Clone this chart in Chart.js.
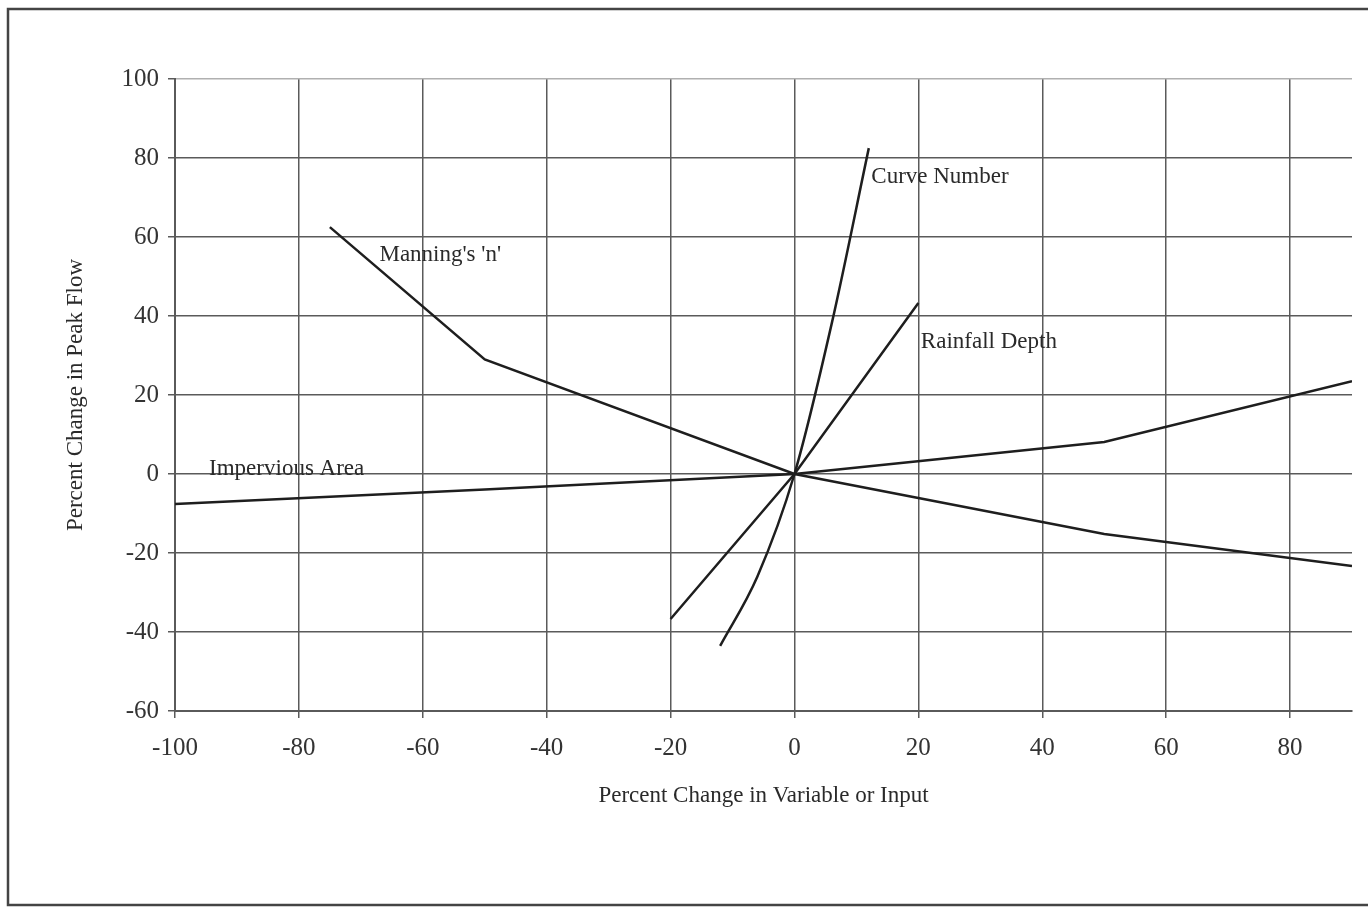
<!DOCTYPE html>
<html>
<head>
<meta charset="utf-8">
<script src="https://cdn.jsdelivr.net/npm/chart.js@4.4.0/dist/chart.umd.min.js"></script>
<style>
  html, body { margin: 0; padding: 0; background: #fff; }
  #graphique { display: block; }
</style>
</head>
<body>
<canvas id="graphique" width="1368" height="907"></canvas>
<script>
// Données (pourcentages)
const manningX = [-75, -50, 0, 50, 90];
const manningY = [62.5, 29, 0, -15.2, -23.3];

const imperviousX = [-100, -50, 0, 50, 90];
const imperviousY = [-7.6, -3.9, 0, 8.1, 23.5];

const curveX = [-12, -6, 0, 6, 12];
const curveY = [-43.5, -26, 0, 38, 82.5];

const rainX = [-20, 0, 20];
const rainY = [-36.7, 0, 43.3];

// Étiquettes posées sur les courbes (coordonnées en valeurs)
const labelTexts = ["Manning's 'n'", "Curve Number", "Rainfall Depth", "Impervious Area"];
const labelX = [-67, 12.4, 20.4, -94.5];
const labelY = [55.4, 75.2, 33.4, 1.3];

const xTitle = "Percent Change in Variable or Input";
const yTitle = "Percent Change in Peak Flow";

function points(xs, ys) {
    return xs.map((x, i) => ({ x: x, y: ys[i] }));
}

const police = "'Liberation Serif', 'Times New Roman', serif";
const couleurGrille = "#5a5a5a";

// Cadre extérieur et étiquettes des courbes
const decor = {
    id: "decor",
    afterDraw(chart) {
        const ctx = chart.ctx;
        const sx = chart.scales.x;
        const sy = chart.scales.y;
        ctx.save();
        ctx.strokeStyle = "#444";
        ctx.lineWidth = 2.5;
        ctx.strokeRect(8, 9, 1380, 896);
        ctx.fillStyle = "#2a2a2a";
        ctx.font = "23px " + police;
        ctx.textAlign = "left";
        ctx.textBaseline = "middle";
        for (let i = 0; i < labelTexts.length; i++) {
            ctx.fillText(labelTexts[i], sx.getPixelForValue(labelX[i]), sy.getPixelForValue(labelY[i]));
        }
        ctx.restore();
    }
};

const ligne = {
    borderColor: "#1e1e1e",
    borderWidth: 2.5,
    pointRadius: 0,
    showLine: true,
    fill: false,
};

const config = {
    type: "scatter",
    data: {
        datasets: [
            { ...ligne, label: "Manning's 'n'", data: points(manningX, manningY) },
            { ...ligne, label: "Impervious Area", data: points(imperviousX, imperviousY) },
            { ...ligne, label: "Curve Number", data: points(curveX, curveY), cubicInterpolationMode: "monotone" },
            { ...ligne, label: "Rainfall Depth", data: points(rainX, rainY) },
        ],
    },
    options: {
        responsive: false,
        animation: false,
        layout: { padding: { left: 58, top: 79, right: 16, bottom: 93 } },
        plugins: {
            legend: { display: false },
            tooltip: { enabled: false },
        },
        scales: {
            x: {
                type: "linear",
                min: -100,
                max: 90,
                afterBuildTicks: (scale) => {
                    scale.ticks = scale.ticks.filter(t => t.value <= 80);
                },
                afterFit: (scale) => { scale.height = 103; },
                ticks: {
                    stepSize: 20,
                    color: "#333",
                    padding: 15,
                    maxRotation: 0,
                    font: { family: police, size: 25 },
                },
                grid: {
                    color: couleurGrille,
                    lineWidth: 1.5,
                    tickLength: 7,
                    tickColor: couleurGrille,
                },
                border: { color: couleurGrille, width: 2 },
                title: {
                    display: true,
                    text: xTitle,
                    color: "#2a2a2a",
                    padding: 4,
                    font: { family: police, size: 23 },
                },
            },
            y: {
                type: "linear",
                min: -60,
                max: 100,
                afterFit: (scale) => { scale.width = 117; },
                ticks: {
                    stepSize: 20,
                    color: "#333",
                    padding: 9,
                    font: { family: police, size: 25 },
                },
                grid: {
                    color: (c) => c.tick && c.tick.value === 100 ? "#b0b0b0" : couleurGrille,
                    lineWidth: 1.5,
                    tickLength: 7,
                    tickColor: couleurGrille,
                },
                border: { color: couleurGrille, width: 2 },
                title: {
                    display: true,
                    text: yTitle,
                    color: "#2a2a2a",
                    padding: 4,
                    font: { family: police, size: 23 },
                },
            },
        },
    },
    plugins: [decor],
};

new Chart(document.querySelector("#graphique"), config);
</script>
</body>
</html>
